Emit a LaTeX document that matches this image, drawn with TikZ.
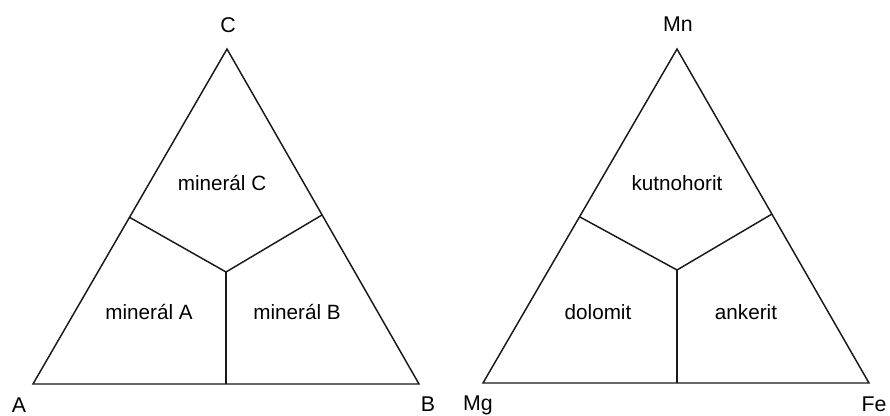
\documentclass[tikz,border=0pt]{standalone}
\usepackage{fontspec}
\setmainfont{Liberation Sans}
\usetikzlibrary{positioning}

\begin{document}
\begin{tikzpicture}[x=0.75pt, y=-0.75pt,
  edge/.style={line width=1.1pt, black!90, line join=miter},
  corner/.style={font=\fontsize{16}{19}\selectfont, inner sep=0pt},
  field/.style={font=\fontsize{15.5}{18}\selectfont, inner sep=0pt}]

\useasboundingbox (0,0) rectangle (890,416);

% === Left triangle (A, B, C) ===
\coordinate (a) at (33,384);
\coordinate (b) at (419,384);
\coordinate (c) at (227,49);
\coordinate (ac) at (129,217);
\coordinate (bc) at (322,215);
\coordinate (abc) at (226,272);
\coordinate (ab) at (226,384);

\draw[edge] (a) -- (b) -- (c) -- cycle;
\draw[edge] (ac) -- (abc) -- (bc);
\draw[edge] (abc) -- (ab);

\node[corner] (lc) at (228,25) {C};
\node[corner] (la) at (19,405) {A};
\node[corner] (lb) at (428,404) {B};

\node[field] (minc) at (222,183) {minerál C};
\node[field] (mina) at (149,312) {minerál A};
\node[field] (minb) at (297,312) {minerál B};

% === Right triangle (Mg, Fe, Mn) ===
\coordinate (mg) at (483,383);
\coordinate (fe) at (869,383);
\coordinate (mn) at (677,49);
\coordinate (mgmn) at (580,217);
\coordinate (femn) at (772,214);
\coordinate (mid) at (677,270);
\coordinate (mgfe) at (677,383);

\draw[edge] (mg) -- (fe) -- (mn) -- cycle;
\draw[edge] (mgmn) -- (mid) -- (femn);
\draw[edge] (mid) -- (mgfe);

\node[corner] (lmn) at (678,24) {Mn};
\node[corner] (lmg) at (478,405) {Mg};
\node[corner] (lfe) at (874,404) {Fe};

\node[field] (kut) at (677,183) {kutnohorit};
\node[field] (dol) at (598,312) {dolomit};
\node[field] (ank) at (746,312) {ankerit};

\end{tikzpicture}
\end{document}
